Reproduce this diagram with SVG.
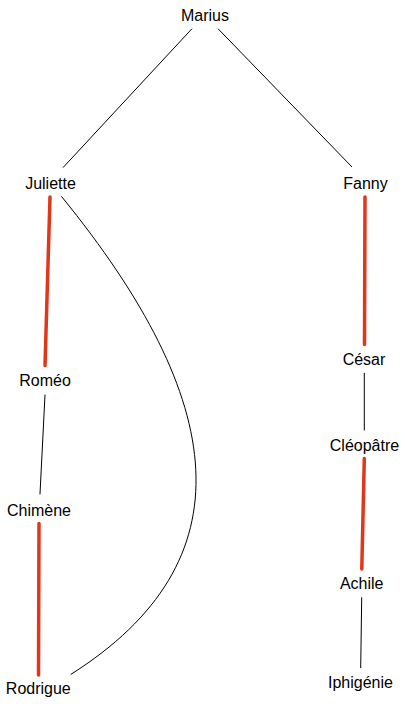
<svg xmlns="http://www.w3.org/2000/svg" width="405" height="704" viewBox="0 0 405 704">
<style>
text{font-family:"Liberation Sans",Arial,sans-serif;font-size:16px;fill:#000;text-anchor:middle}
.e{stroke:#000;stroke-width:1;fill:none;stroke-linecap:round}
.r{stroke:#e2361a;stroke-width:3.5;fill:none;stroke-linecap:round}
</style>
<rect width="405" height="704" fill="#fff"/>
<g id="connectors">
<line class="e" x1="191.7" y1="29" x2="63.3" y2="167.3"/>
<line class="e" x1="218.3" y1="29" x2="351.7" y2="166.7"/>
<line class="r" x1="50" y1="197" x2="45" y2="365.5"/>
<line class="r" x1="365" y1="197" x2="364.5" y2="344.5"/>
<line class="e" x1="45" y1="395" x2="40" y2="494"/>
<line class="e" x1="364.3" y1="373.3" x2="364.3" y2="430"/>
<line class="r" x1="364.3" y1="458.5" x2="361.8" y2="569"/>
<line class="r" x1="39" y1="523.5" x2="38.5" y2="675"/>
<line class="e" x1="361.7" y1="597.7" x2="360.7" y2="667.7"/>
<path class="e" d="M61.7,196.7 C228,401 250,561 71,674.3"/>
</g>
<g id="marius"><text x="205" y="21">Marius</text></g>
<g id="juliette"><text x="50.5" y="189">Juliette</text></g>
<g id="fanny"><text x="365.5" y="189">Fanny</text></g>
<g id="romeo"><text x="45" y="386">Roméo</text></g>
<g id="cesar"><text x="364" y="365">César</text></g>
<g id="cleopatre"><text x="364.5" y="451">Cléopâtre</text></g>
<g id="chimene"><text x="39" y="516">Chimène</text></g>
<g id="achile"><text x="361.7" y="589">Achile</text></g>
<g id="rodrigue"><text x="38.3" y="694">Rodrigue</text></g>
<g id="iphigenie"><text x="360.5" y="688">Iphigénie</text></g>
</svg>
